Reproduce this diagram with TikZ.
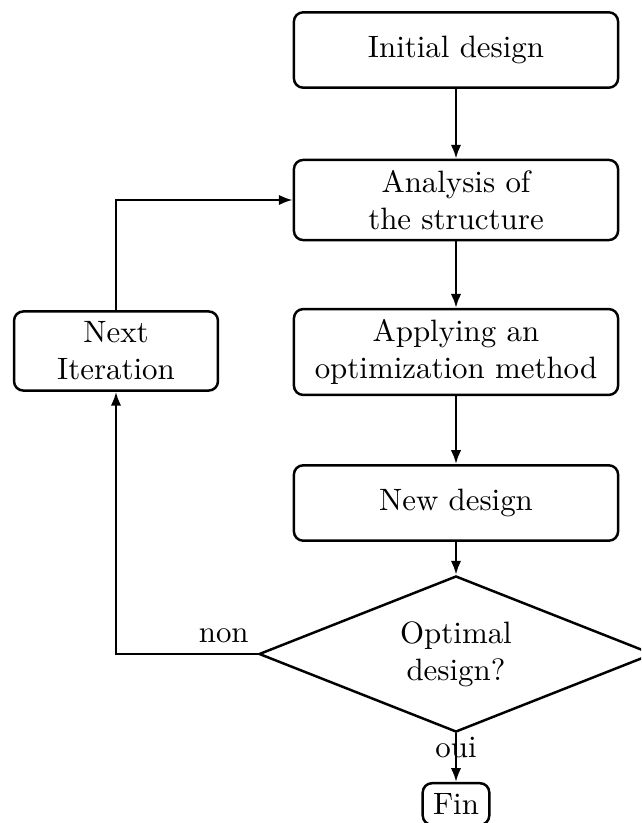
\documentclass[tikz,border=0pt]{standalone}
\usetikzlibrary{shapes.geometric,arrows.meta}
\begin{document}
\begin{tikzpicture}[x=0.3236pt,y=-0.3236pt,
  box/.style={draw,thick,rounded corners=3pt,align=center,minimum width=104.9pt,minimum height=24.4pt},
  sbox/.style={draw,thick,rounded corners=3pt,align=center,minimum width=66pt},
  dec/.style={draw,thick,diamond,align=center,minimum width=127.5pt,minimum height=50.5pt,inner sep=0pt,aspect=2.5},
  arr/.style={thick,-{Latex[length=4.5pt,width=3.4pt]}}]
\useasboundingbox (0,0) rectangle (641,823);
\clip (0,0) rectangle (641,823);
\node[box] (init) at (456,50) {Initial design};
\node[box] (ana) at (456,200) {Analysis of\\the structure};
\node[box] (app) at (456,352) {Applying an\\optimization method};
\node[box] (new) at (456,503) {New design};
\node[dec] (dec) at (456,654) {Optimal\\design?};
\node[sbox] (next) at (116,351) {Next\\Iteration};
\node[draw,thick,rounded corners=3pt] (fin) at (456,804) {Fin};
\draw[arr] (init) -- (ana);
\draw[arr] (ana) -- (app);
\draw[arr] (app) -- (new);
\draw[arr] (new) -- (dec);
\draw[arr] (dec.south) -- node[pos=0.3] {oui} (fin);
\draw[arr] (dec.west) -| node[pos=0.12,above] {non} (next.south);
\draw[arr] (next.north) |- (ana.west);
\end{tikzpicture}
\end{document}
